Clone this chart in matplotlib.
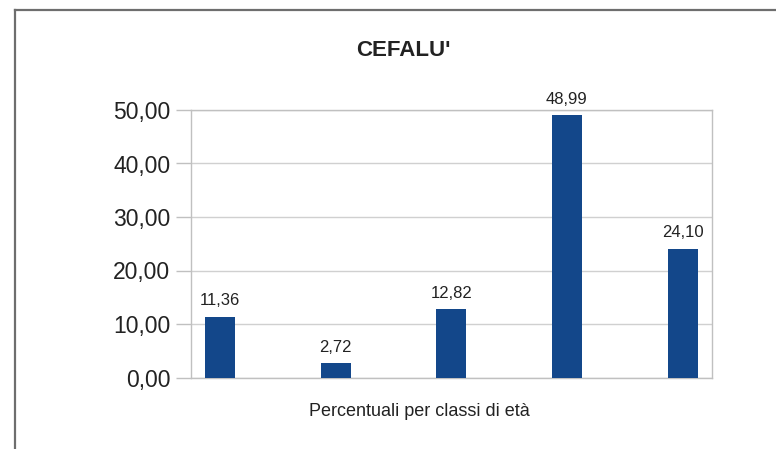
import matplotlib
matplotlib.use("Agg")
import matplotlib.pyplot as plt
from matplotlib.lines import Line2D
from matplotlib.ticker import FuncFormatter
import numpy as np

plt.rcParams['font.family'] = ['Liberation Sans', 'DejaVu Sans']

# dati: percentuali per classi di età
classi = ["1", "2", "3", "4", "5"]
valori = [11.36, 2.72, 12.82, 48.99, 24.10]
yticks = [0, 10, 20, 30, 40, 50]

W, H = 776, 449
fig = plt.figure(figsize=(W / 100, H / 100), dpi=100)

# riquadro esterno (solo bordo sinistro e superiore visibili)
fig.add_artist(Line2D([15.5 / W, 15.5 / W], [0, 1 - 9.5 / H], color='#6e6e6e', lw=1.6))
fig.add_artist(Line2D([15.5 / W, 1], [1 - 9.5 / H, 1 - 9.5 / H], color='#6e6e6e', lw=1.6))

ax = fig.add_axes([191 / W, 1 - 377.5 / H, (711.5 - 191) / W, (377.5 - 110) / H])

x = np.arange(len(classi))
bars = ax.bar(x, valori, width=0.26, color='#13478a', zorder=3)

ax.set_xlim(-0.25, len(classi) - 0.75)
ax.set_ylim(0, 50)
ax.set_yticks(yticks)
ax.yaxis.set_major_formatter(FuncFormatter(lambda v, p: f"{v:.2f}".replace('.', ',')))
ax.set_xticks([])
ax.tick_params(axis='y', length=11, width=1, color='#c0c0c0', labelsize=16.5,
               labelcolor='#222222', pad=4)
ax.yaxis.grid(True, color='#d0d0d0', lw=1, zorder=0)
for s in ax.spines.values():
    s.set_color('#c0c0c0')
    s.set_linewidth(1)

ax.bar_label(bars, labels=[f"{v:.2f}".replace('.', ',') for v in valori],
             padding=6, fontsize=12, color='#222222')

fig.text(403 / W, 1 - 50 / H, "CEFALU'", ha='center', va='center',
         fontsize=16, fontweight='bold', color='#222222')
fig.text(419 / W, 1 - 411 / H, "Percentuali per classi di età", ha='center',
         va='center', fontsize=13, color='#222222')

fig.savefig("out.png", dpi=100)
